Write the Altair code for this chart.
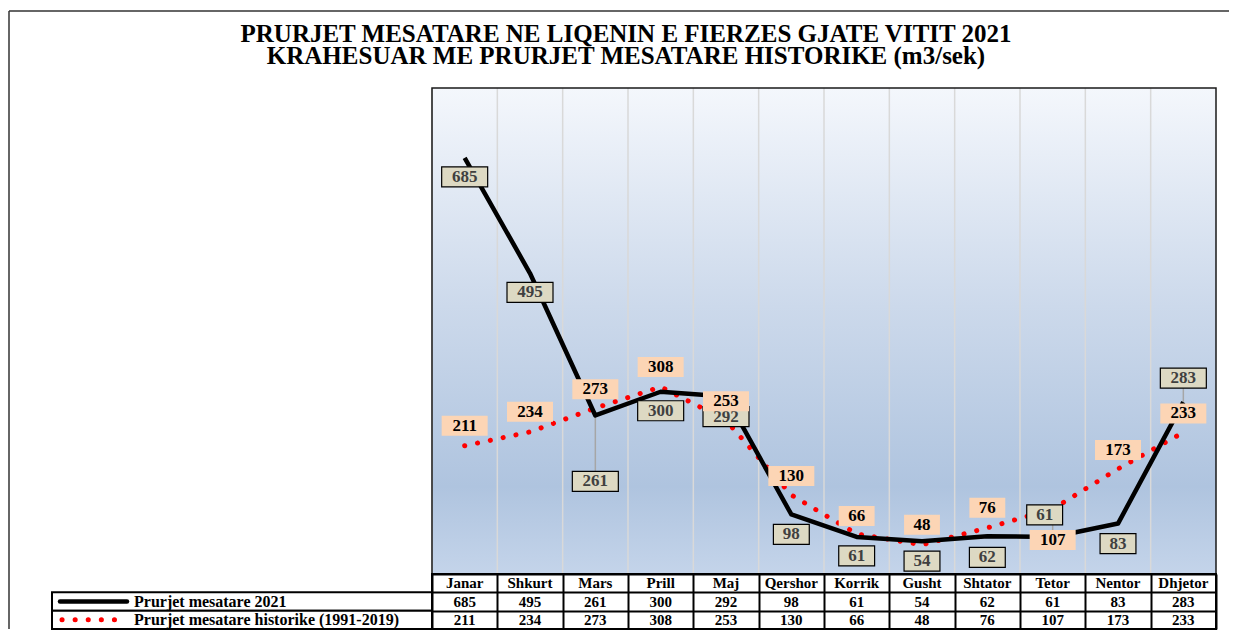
import altair as alt
import pandas as pd

# ---------------- data ----------------
months = ["Janar", "Shkurt", "Mars", "Prill", "Maj", "Qershor",
          "Korrik", "Gusht", "Shtator", "Tetor", "Nentor", "Dhjetor"]
flow_2021 = [685, 495, 261, 300, 292, 98, 61, 54, 62, 61, 83, 283]
flow_hist = [211, 234, 273, 308, 253, 130, 66, 48, 76, 107, 173, 233]
series_2021 = "Prurjet mesatare 2021"
series_hist = "Prurjet mesatare historike (1991-2019)"
title_lines = ["PRURJET MESATARE NE LIQENIN E FIERZES GJATE VITIT 2021",
               "KRAHESUAR ME PRURJET MESATARE HISTORIKE (m3/sek)"]

# ---------------- label placement (pixel offsets from the point; styling only) ----------------
off_2021_dy = [19, 19, 66, 19, 20, 20, 19, 20, 21, -22, 20, -24]
off_2021_dx = [0, 0, 0, 0, 0, 0, 0, 0, 0, -8, 0, 0]
leader_2021 = [False, False, True, False, False, False, False, False, False, True, False, True]
off_hist_dy = [-20, -20, -19, -20, -19, -19, -18, -20, -20, 31, -19, -19]
off_hist_dx = [0] * 12

FONT = "Liberation Serif"
PLOT_W, PLOT_H = 784, 486
LEFT_W = 423
TABLE_H = 55
Y_MAX = 800
HALF_BAND = PLOT_W / len(months) / 2

BOX3 = "M-1,-0.435H1V0.435H-1Z"
BOX2 = "M-0.78,-0.435H0.78V0.435H-0.78Z"
BOX_SIZE = 46 * 46


def label_frame(values, dys, dxs, leaders=None):
    return pd.DataFrame({
        "month": months,
        "value": values,
        "label": [str(v) for v in values],
        "shape": [BOX3 if v >= 100 else BOX2 for v in values],
        "lab_value": [v - d * Y_MAX / PLOT_H for v, d in zip(values, dys)],
        "xoff": [HALF_BAND + d for d in dxs],
        "leader": leaders if leaders is not None else [False] * len(values),
    })


df21 = label_frame(flow_2021, off_2021_dy, off_2021_dx, leader_2021)
dfh = label_frame(flow_hist, off_hist_dy, off_hist_dx)
one = pd.DataFrame({"a": [0]})
mdf = pd.DataFrame({"month": months})

xs = alt.Scale(type="band", domain=months, paddingInner=0, paddingOuter=0)
ys = alt.Scale(domain=[0, Y_MAX], nice=False, zero=True)
X = alt.X("month:N", scale=xs, axis=None)
Y = alt.Y("value:Q", scale=ys, axis=None)
YLAB = alt.Y("lab_value:Q", scale=ys, axis=None)
XOFF = alt.XOffset("xoff:Q", scale=None)

gradient = alt.LinearGradient(
    gradient="linear",
    stops=[alt.GradientStop(color="#F4F7FC", offset=0),
           alt.GradientStop(color="#CCD9EB", offset=0.45),
           alt.GradientStop(color="#AFC4DF", offset=0.82),
           alt.GradientStop(color="#C4D4EA", offset=1)],
    x1=0, x2=0, y1=0, y2=1)

bg = alt.Chart(one).mark_rect(fill=gradient).encode(
    x=alt.value(0), x2=alt.value(PLOT_W), y=alt.value(0), y2=alt.value(PLOT_H))

grid = alt.Chart(mdf).mark_rule(color="#D9D9D9", strokeWidth=1.5).encode(
    x=alt.X("month:N", scale=xs, axis=None, bandPosition=0),
    y=alt.value(0), y2=alt.value(PLOT_H))

leaders = alt.Chart(df21).transform_filter("datum.leader").mark_rule(
    color="#A6A6A6", strokeWidth=1.5).encode(
    x=X, y=Y, y2=alt.Y2("lab_value:Q"))

line_hist = alt.Chart(dfh).mark_line(
    color="#FF0000", strokeWidth=5, strokeDash=[0.1, 13], strokeCap="round").encode(x=X, y=Y)

line_21 = alt.Chart(df21).mark_line(
    color="#000000", strokeWidth=4.5, strokeJoin="round").encode(x=X, y=Y)


def boxes(df, fill, stroke, sw):
    return alt.Chart(df).mark_point(
        filled=True, fill=fill, stroke=stroke, strokeWidth=sw, opacity=1,
        size=BOX_SIZE).encode(
        x=X, xOffset=XOFF, y=YLAB, shape=alt.Shape("shape:N", scale=None))


def texts(df, color):
    return alt.Chart(df).mark_text(
        font=FONT, fontSize=17, fontWeight="bold", color=color,
        align="center", baseline="middle").encode(
        x=X, xOffset=XOFF, y=YLAB, text="label:N")


box21 = boxes(df21, "#DDD9C3", "#000000", 1.2)
txt21 = texts(df21, "#404040")
boxh = boxes(dfh, "#FCD5B5", "#FCD5B5", 0)
txth = texts(dfh, "#000000")

border = alt.Chart(one).mark_rect(fillOpacity=0, stroke="#1A1A1A", strokeWidth=1.5).encode(
    x=alt.value(0), x2=alt.value(PLOT_W), y=alt.value(0), y2=alt.value(PLOT_H))

# chart title drawn as text above the plot area
title = alt.Chart(one).mark_text(
    font=FONT, fontSize=25, fontWeight="bold", color="#000000", align="center",
    baseline="alphabetic", lineHeight=22).encode(
    x=alt.value(194), y=alt.value(-46), text=alt.value(title_lines))

main = alt.layer(bg, grid, leaders, line_hist, line_21, box21, txt21, boxh, txth, border,
                 title).properties(width=PLOT_W, height=PLOT_H)

# ---------------- data table ----------------
rows = ["hdr", "r2021", "rhist"]
ys_tab = alt.Scale(type="band", domain=rows, paddingInner=0, paddingOuter=0)
table_df = pd.DataFrame({
    "month": months * 3,
    "row": ["hdr"] * 12 + ["r2021"] * 12 + ["rhist"] * 12,
    "text": months + [str(v) for v in flow_2021] + [str(v) for v in flow_hist],
})
grid_axis = alt.Axis(tickBand="extent", grid=True, gridColor="#000000", gridWidth=2,
                     labels=False, ticks=False, domain=False, title=None)
tab_text = alt.Chart(table_df).mark_text(
    font=FONT, fontSize=15, fontWeight="bold", color="#000000", baseline="middle").encode(
    x=alt.X("month:N", scale=xs, axis=grid_axis),
    y=alt.Y("row:N", scale=ys_tab, axis=grid_axis),
    text="text:N")
tab_border = alt.Chart(one).mark_rect(fillOpacity=0, stroke="#000000", strokeWidth=2).encode(
    x=alt.value(0), x2=alt.value(PLOT_W), y=alt.value(0), y2=alt.value(TABLE_H))
table = alt.layer(tab_text, tab_border).properties(width=PLOT_W, height=TABLE_H)

# ---------------- legend column of the table ----------------
leg_df = pd.DataFrame({"row": ["r2021", "rhist"], "name": [series_2021, series_hist]})
YL = alt.Y("row:N", scale=ys_tab, axis=None)
leg_box = alt.Chart(leg_df).mark_rect(fill="white", stroke="#000000", strokeWidth=2).encode(
    x=alt.value(43), x2=alt.value(LEFT_W), y=YL)
key21 = alt.Chart(leg_df).transform_filter("datum.row == 'r2021'").mark_rule(
    color="#000000", strokeWidth=4.5, strokeCap="round").encode(
    x=alt.value(51), x2=alt.value(118), y=YL)
keyh = alt.Chart(leg_df).transform_filter("datum.row == 'rhist'").mark_rule(
    color="#FF0000", strokeWidth=5, strokeDash=[0.1, 13], strokeCap="round").encode(
    x=alt.value(53), x2=alt.value(107), y=YL)
leg_txt = alt.Chart(leg_df).mark_text(
    font=FONT, fontSize=16, fontWeight="bold", color="#000000", align="left",
    baseline="middle").encode(x=alt.value(125), y=YL, text="name:N")
legend = alt.layer(leg_box, key21, keyh, leg_txt).properties(width=LEFT_W, height=TABLE_H)

# ---------------- spacer with outer frame ----------------
frame_left = alt.Chart(one).mark_rule(color="#333333", strokeWidth=1.5).encode(
    x=alt.value(0), y=alt.value(-77), y2=alt.value(PLOT_H + TABLE_H))
frame_top = alt.Chart(one).mark_rule(color="#333333", strokeWidth=1.5).encode(
    x=alt.value(0), x2=alt.value(1220), y=alt.value(-77))
spacer = alt.layer(frame_left, frame_top).properties(width=LEFT_W, height=PLOT_H)

chart = alt.concat(spacer, main, legend, table, columns=2, spacing=0, bounds="flush").properties(
    padding={"top": 2, "left": 0, "right": 0, "bottom": 0},
    background="white",
).configure_view(stroke=None)

chart.save("out.html", embed_options={"renderer": "svg", "actions": False})
